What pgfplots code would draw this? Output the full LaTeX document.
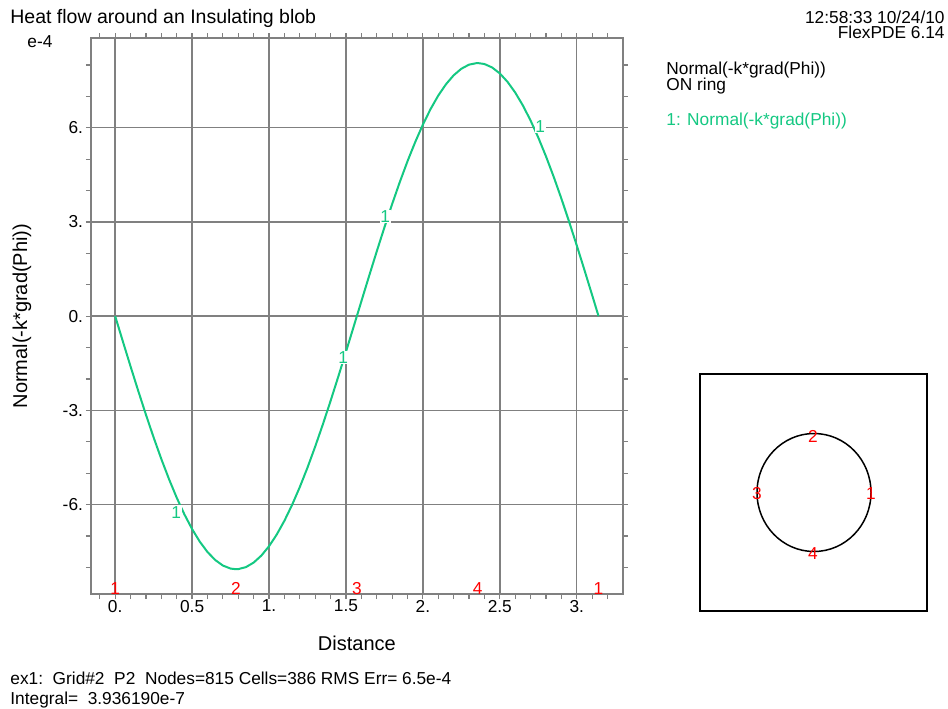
\documentclass[border=0pt]{standalone}
\usepackage{fontspec}
\setmainfont{Liberation Sans}
\usepackage{pgfplots}
\pgfplotsset{compat=1.18}
\definecolor{curve}{RGB}{20,200,130}
\definecolor{gridgray}{RGB}{128,128,128}
\newcommand{\fs}{\fontsize{8.65pt}{10pt}\selectfont}
\newcommand{\ft}{\fontsize{9.75pt}{11pt}\selectfont}
\begin{document}
\begin{tikzpicture}
\useasboundingbox (0,0) rectangle (474pt,-354pt);
\begin{scope}[x=0.5pt,y=-0.5pt]
  \node[anchor=base west, inner sep=0, font=\ft] at (10,23) {Heat flow around an Insulating blob};
  \node[anchor=base east, inner sep=0, font=\fs] at (945,23) {12:58:33 10/24/10};
  \node[anchor=base east, inner sep=0, font=\fs] at (945,38) {FlexPDE 6.14};
  \node[anchor=base west, inner sep=0, font=\fs] at (666,74) {Normal(-k*grad(Phi))};
  \node[anchor=base west, inner sep=0, font=\fs] at (666,90) {ON ring};
  \node[anchor=base west, inner sep=0, font=\fs, text=curve] at (666,125) {1: Normal(-k*grad(Phi))};
  \node[anchor=center, inner sep=0, font=\fs] at (40,42) {e-4};
  \node[anchor=base west, inner sep=0, font=\fs] at (10,684) {ex1:\ \ Grid\#2\ \ P2\ \ Nodes=815 Cells=386 RMS Err= 6.5e-4};
  \node[anchor=base west, inner sep=0, font=\fs] at (10,704) {Integral=\ \ 3.936190e-7};
  % inset
  \draw[black, line width=1pt] (700,374) rectangle (927,611);
  \draw[black, line width=0.75pt] (814,492.5) ellipse [x radius=57, y radius=59];
  \node[text=red, font=\fs, inner sep=0] at (813,436) {2};
  \node[text=red, font=\fs, inner sep=0] at (757,494) {3};
  \node[text=red, font=\fs, inner sep=0] at (871,494) {1};
  \node[text=red, font=\fs, inner sep=0] at (813,554) {4};
\end{scope}
\begin{axis}[
  at={(45.5pt,-297pt)}, anchor=south west,
  scale only axis, width=265.85pt, height=277.9pt,
  xmin=-0.15708, xmax=3.29867, ymin=-8.85, ymax=8.85,
  xtick={0,0.5,1,1.5,2,2.5,3},
  xticklabels={0.,0.5,1.,1.5,2.,2.5,3.},
  ytick={-6,-3,0,3,6},
  yticklabels={-6.,-3.,0.,3.,6.},
  minor xtick={-0.1,0.1,0.2,0.3,0.4,0.6,0.7,0.8,0.9,1.1,1.2,1.3,1.4,1.6,1.7,1.8,1.9,2.1,2.2,2.3,2.4,2.6,2.7,2.8,2.9,3.1,3.2},
  minor ytick={-8,-7,-5,-4,-2,-1,1,2,4,5,7,8},
  xtick pos=both, ytick pos=both,
  xticklabel pos=lower, yticklabel pos=left,
  tick align=outside,
  major tick length=2.5pt, minor tick length=2.5pt,
  every tick/.style={gridgray, line width=0.6pt},
  grid=major,
  major grid style={gridgray, line width=0.7pt},
  axis line style={gridgray, line width=0.8pt},
  tick label style={font=\fs},
  xticklabel style={yshift=3pt},
  yticklabel style={xshift=2pt},
  /pgf/number format/assume math mode=true,
  xlabel={Distance},
  ylabel={Normal(-k*grad(Phi))},
  label style={font=\fs},
  every axis x label/.style={at={(axis description cs:0.5,0)}, anchor=center, yshift=-24.5pt},
  every axis y label/.style={at={(axis description cs:0,0.5)}, anchor=center, rotate=90, yshift=34.5pt},
  clip=false,
]
\addplot[curve, line width=1pt] coordinates {
(0,0) (0.05,-0.805) (0.1,-1.601) (0.15,-2.382) (0.2,-3.139) (0.25,-3.864)
(0.3,-4.551) (0.35,-5.192) (0.4,-5.782) (0.45,-6.314) (0.5,-6.782)
(0.55,-7.183) (0.6,-7.512) (0.65,-7.766) (0.7,-7.943) (0.75,-8.040)
(0.7854,-8.06) (0.8,-8.057) (0.85,-7.993) (0.9,-7.849) (0.95,-7.627) (1.0,-7.329)
(1.05,-6.957) (1.1,-6.517) (1.15,-6.010) (1.2,-5.444) (1.25,-4.824)
(1.3,-4.155) (1.35,-3.445) (1.4,-2.700) (1.45,-1.928) (1.5,-1.137)
(1.55,-0.335) (1.6,0.470) (1.65,1.271) (1.7,2.060) (1.75,2.827) (1.8,3.567)
(1.85,4.271) (1.9,4.932) (1.95,5.543) (2.0,6.100) (2.05,6.595) (2.1,7.025)
(2.15,7.384) (2.2,7.670) (2.25,7.879) (2.3,8.009) (2.35,8.059) (2.3562,8.06)
(2.4,8.029) (2.45,7.919) (2.5,7.729) (2.55,7.462) (2.6,7.121) (2.65,6.708)
(2.7,6.229) (2.75,5.687) (2.8,5.088) (2.85,4.439) (2.9,3.745) (2.95,3.013)
(3.0,2.252) (3.05,1.468) (3.1,0.670) (3.1416,0)
};
\node[text=curve, fill=white, inner sep=0.4pt, font=\fs] at (axis cs:0.396,-6.24) {1};
\node[text=curve, fill=white, inner sep=0.4pt, font=\fs] at (axis cs:1.482,-1.32) {1};
\node[text=curve, fill=white, inner sep=0.4pt, font=\fs] at (axis cs:1.755,3.18) {1};
\node[text=curve, fill=white, inner sep=0.4pt, font=\fs] at (axis cs:2.762,6.05) {1};
\node[text=red, anchor=base, inner sep=0, font=\fs] at (axis cs:0,-8.85) {1};
\node[text=red, anchor=base, inner sep=0, font=\fs] at (axis cs:0.7854,-8.85) {2};
\node[text=red, anchor=base, inner sep=0, font=\fs] at (axis cs:1.5708,-8.85) {3};
\node[text=red, anchor=base, inner sep=0, font=\fs] at (axis cs:2.3562,-8.85) {4};
\node[text=red, anchor=base, inner sep=0, font=\fs] at (axis cs:3.1416,-8.85) {1};
\end{axis}
\end{tikzpicture}
\end{document}
